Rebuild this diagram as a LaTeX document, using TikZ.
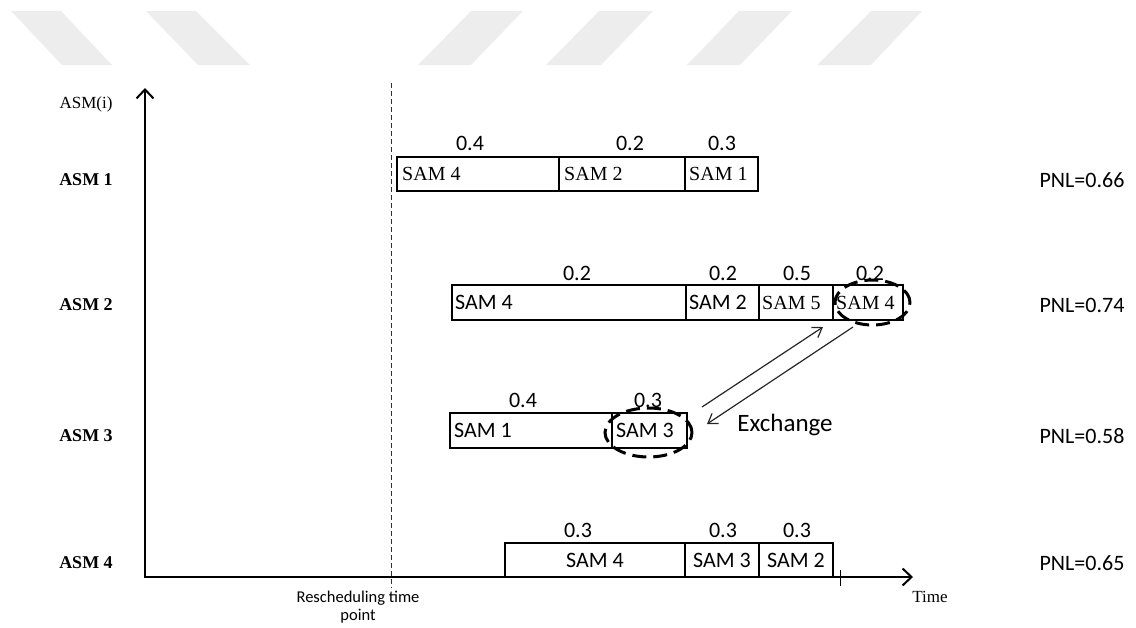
\documentclass[tikz,border=0pt]{standalone}
\usepackage{fontspec}
\setmainfont{Liberation Serif}
\newfontfamily\calf{Carlito}
\usetikzlibrary{arrows.meta,shapes.geometric}
\begin{document}
\begin{tikzpicture}[x=1pt,y=-1pt,
  wm/.style={fill=black!7},
  axis/.style={line width=2pt},
  seg/.style={draw, line width=2pt, inner sep=0pt, minimum height=34pt},
  tms/.style={font=\fontsize{20}{22}\selectfont, inner sep=0pt},
  cal/.style={font=\calf\fontsize{22}{24}\selectfont, inner sep=0pt},
  num/.style={font=\calf\fontsize{22}{24}\selectfont, inner sep=0pt},
  asm/.style={font=\bfseries\fontsize{18}{20}\selectfont, inner sep=0pt},
  pnl/.style={font=\calf\fontsize{22}{24}\selectfont, inner sep=0pt},
  ring/.style={draw, ellipse, line width=3pt, dash pattern=on 14pt off 7pt, inner sep=0pt},
  xarrow/.style={draw=black!85, line width=1.2pt, -{Straight Barb[length=9pt,width=12pt]}}
]
\useasboundingbox (0,0) rectangle (1136,627);
% watermark stripes
\fill[wm] (11,11) -- (61,11) -- (112,65) -- (62,65) -- cycle;
\fill[wm] (146,11) -- (196,11) -- (250,65) -- (198,65) -- cycle;
\fill[wm] (471,11) -- (523,11) -- (471,65) -- (418,65) -- cycle;
\fill[wm] (599,11) -- (653,11) -- (601,65) -- (546,65) -- cycle;
\fill[wm] (739,11) -- (792,11) -- (740,65) -- (687,65) -- cycle;
\fill[wm] (871,11) -- (922,11) -- (871,65) -- (817,65) -- cycle;

% axes
\coordinate (O) at (145,577);
\coordinate (ytip) at (145,88);
\coordinate (xtip) at (913,577);
\draw[axis, {Straight Barb[length=9pt,width=17pt]}-{Straight Barb[length=9pt,width=17pt]}] (ytip) -- (O) -- (xtip);
\coordinate (tka) at (840,570);
\coordinate (tkb) at (840,586);
\draw[line width=1pt] (tka) -- (tkb);
\node[font=\fontsize{17}{19}\selectfont, inner sep=0pt] (time) at (930,597) {Time};

% rescheduling line
\coordinate (rta) at (391,83);
\coordinate (rtb) at (391,588);
\draw[line width=1pt, black!80, dash pattern=on 5pt off 3pt] (rta) -- (rtb);
\node[font=\calf\fontsize{16.5}{18}\selectfont, align=center, inner sep=0pt] (resch) at (358,607) {Rescheduling time\\point};

% y labels
\node[font=\fontsize{17}{19}\selectfont, inner sep=0pt] (asmi) at (86,104) {ASM(i)};
\node[asm] (asm1) at (86,180) {ASM 1};
\node[asm] (asm2) at (86,305) {ASM 2};
\node[asm] (asm3) at (86,436) {ASM 3};
\node[asm] (asm4) at (86,563) {ASM 4};

% PNL
\node[pnl] (p1) at (1082,180) {PNL=0.66};
\node[pnl] (p2) at (1082,305) {PNL=0.74};
\node[pnl] (p3) at (1082,436) {PNL=0.58};
\node[pnl] (p4) at (1082,563) {PNL=0.65};

% row 1
\node[seg, minimum width=162pt] (r1a) at (478,173.5) {};
\node[seg, minimum width=126pt] (r1b) at (622,173.5) {};
\node[seg, minimum width=73pt] (r1c) at (721.5,173.5) {};
\node[tms, anchor=west] (t1a) at ([xshift=6pt]r1a.west) {SAM 4};
\node[tms, anchor=west] (t1b) at ([xshift=6pt]r1b.west) {SAM 2};
\node[tms, anchor=west] (t1c) at ([xshift=5pt]r1c.west) {SAM 1};
\node[num] (n1a) at (470,143) {0.4};
\node[num] (n1b) at (630,143) {0.2};
\node[num] (n1c) at (722,143) {0.3};

% row 2
\node[seg, minimum width=234pt, minimum height=35pt] (r2a) at (569,302.5) {};
\node[seg, minimum width=73pt, minimum height=35pt] (r2b) at (722.5,302.5) {};
\node[seg, minimum width=74pt, minimum height=35pt] (r2c) at (796,302.5) {};
\node[seg, minimum width=70pt, minimum height=35pt] (r2d) at (868,302.5) {};
\node[cal, anchor=west] (t2a) at ([xshift=4pt]r2a.west) {SAM 4};
\node[cal, anchor=west] (t2b) at ([xshift=4pt]r2b.west) {SAM 2};
\node[tms, anchor=west] (t2c) at ([xshift=4pt]r2c.west) {SAM 5};
\node[tms, anchor=west] (t2d) at ([xshift=4pt]r2d.west) {SAM 4};
\node[num] (n2a) at (577,273) {0.2};
\node[num] (n2b) at (723,273) {0.2};
\node[num] (n2c) at (797,273) {0.5};
\node[num] (n2d) at (870,273) {0.2};
\node[ring, minimum width=75pt, minimum height=45pt] (ring2) at (872.5,302.5) {};

% row 3
\node[seg, minimum width=162pt, minimum height=35pt] (r3a) at (531,430.5) {};
\node[seg, minimum width=75pt, minimum height=35pt] (r3b) at (649.5,430.5) {};
\node[cal, anchor=west] (t3a) at ([xshift=5pt]r3a.west) {SAM 1};
\node[cal, anchor=west] (t3b) at ([xshift=5pt]r3b.west) {SAM 3};
\node[num] (n3a) at (523,400) {0.4};
\node[num] (n3b) at (648,400) {0.3};
\node[ring, minimum width=87pt, minimum height=49pt] (ring3) at (648.5,432.5) {};

% row 4
\node[seg, minimum width=180pt] (r4a) at (595,560) {};
\node[seg, minimum width=74pt] (r4b) at (722,560) {};
\node[seg, minimum width=74pt] (r4c) at (796,560) {};
\node[cal] (t4a) at (r4a) {SAM 4};
\node[cal] (t4b) at (r4b) {SAM 3};
\node[cal] (t4c) at (r4c) {SAM 2};
\node[num] (n4a) at (578,530) {0.3};
\node[num] (n4b) at (723,530) {0.3};
\node[num] (n4c) at (797,530) {0.3};

% exchange
\coordinate (e1s) at (702,407);
\coordinate (e1e) at (823,327);
\coordinate (e2s) at (853,327);
\coordinate (e2e) at (707,424);
\draw[xarrow] (e1s) -- (e1e);
\draw[xarrow] (e2s) -- (e2e);
\node[font=\calf\fontsize{25}{27}\selectfont, inner sep=0pt] (exch) at (785,425) {Exchange};
\end{tikzpicture}
\end{document}
